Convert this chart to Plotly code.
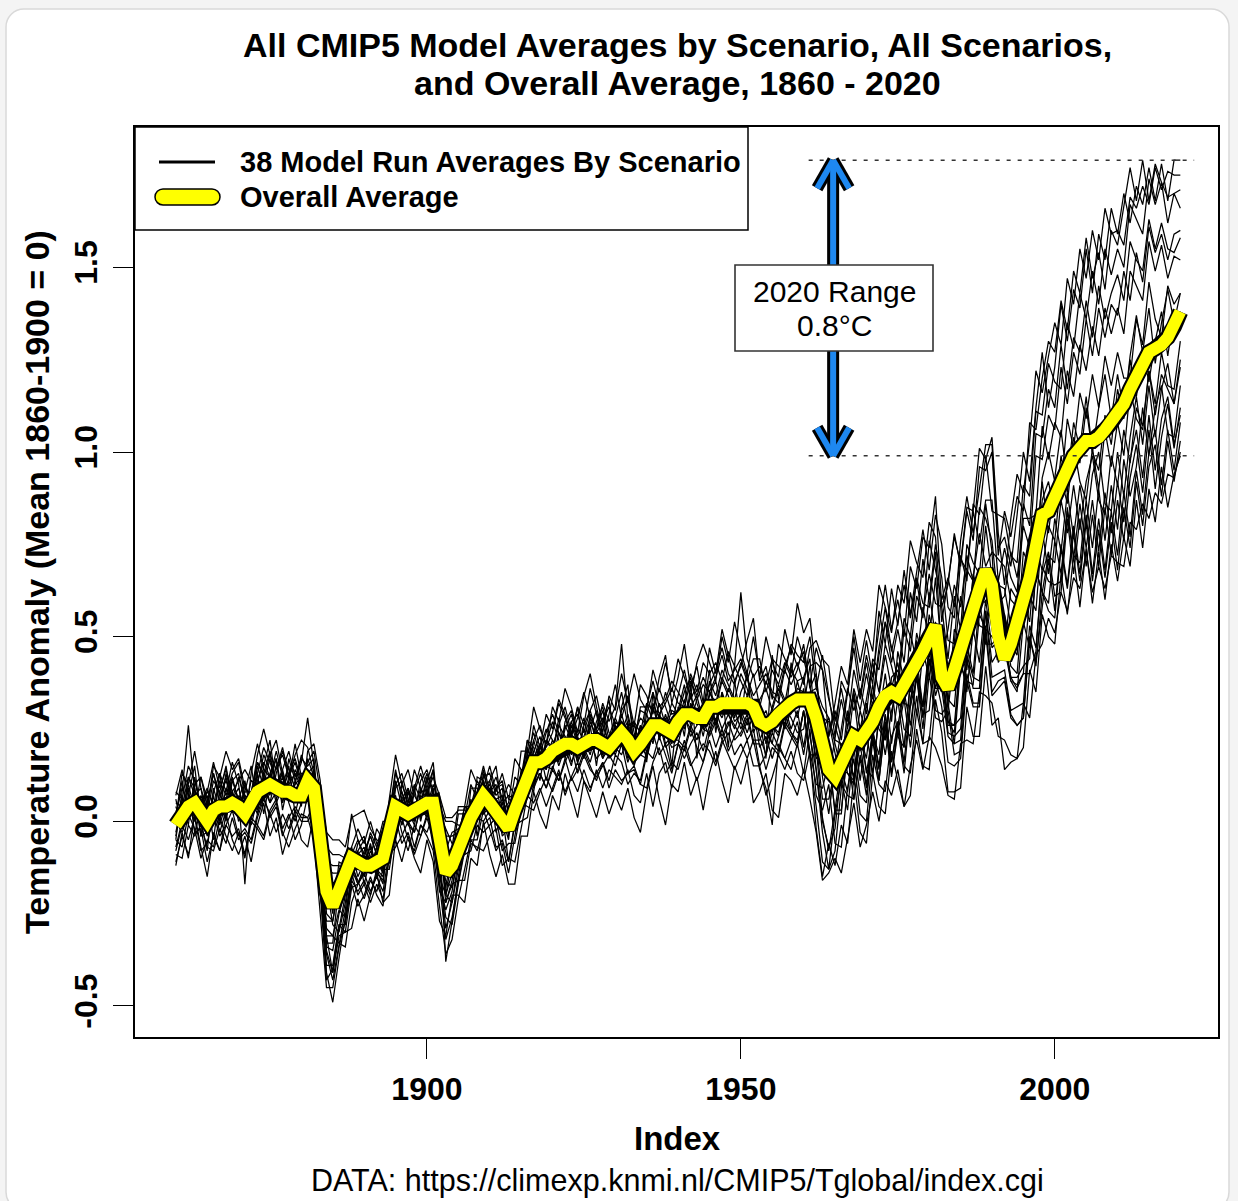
import plotly.graph_objects as go

# ---------------- data (hundredths of a degree C) ----------------
YEARS = list(range(1860, 2021))
X_TICKS = [1900, 1950, 2000]
Y_TICKS = [-0.5, 0.0, 0.5, 1.0, 1.5]
Y_TICK_TEXT = ["-0.5", "0.0", "0.5", "1.0", "1.5"]

# overall average of all scenario runs (yellow line)
overall_avg_c = [
    -1, 2, 4, 5, 2, 0, 3, 4, 4, 5,
    4, 2, 5, 8, 9, 10, 9, 8, 8, 7,
    7, 11, 9, -4, -19, -23, -19, -16, -10, -11,
    -12, -12, -11, -10, -3, 4, 3, 2, 3, 4,
    5, 5, -5, -14, -12, -7, -3, 1, 4, 7,
    5, 3, 0, -2, 3, 8, 13, 16, 16, 17,
    19, 20, 21, 21, 20, 21, 22, 22, 21, 20,
    22, 24, 22, 19, 21, 24, 26, 26, 25, 24,
    27, 29, 29, 28, 28, 31, 31, 32, 32, 32,
    32, 32, 31, 27, 26, 27, 29, 31, 32, 33,
    33, 33, 28, 19, 14, 12, 16, 20, 23, 22,
    24, 27, 31, 34, 35, 34, 37, 41, 43, 46,
    50, 53, 39, 36, 41, 47, 53, 58, 63, 68,
    64, 50, 44, 48, 53, 60, 66, 76, 83, 84,
    88, 93, 97, 99, 101, 103, 103, 104, 106, 108,
    110, 113, 117, 121, 124, 127, 128, 129, 131, 134,
    138,
]

# each scenario-run average, given as its distance from the overall average
run01_dev_c = [
    5, -3, 8, 2, -6, 4, 10, 1, -4, 6,
    9, 3, -2, 7, 0, -5, 4, 11, 6, 2,
    -3, 8, 12, 15, 5, -2, 8, 4, 12, 6,
    2, 9, 4, -3, 5, 10, 3, -2, 6, 11,
    4, -3, 7, 12, 6, 2, -4, 8, 5, -2,
    3, 9, 6, 12, 4, -3, 5, 8, 2, 7,
    10, 4, -2, 6, 9, 3, 8, 12, 5, 1,
    6, 11, 4, 8, -2, 5, 9, 3, 7, 12,
    5, 2, 9, 6, 11, 4, 8, 13, 6, 9,
    12, 7, 3, 10, 14, 8, 5, 11, 15, 9,
    13, 4, 19, 22, 9, 18, 6, 15, 24, 12,
    21, 10, 26, 14, 28, 19, 31, 15, 24, 33,
    18, 30, 36, 22, 14, 29, 35, 20, 27, 34,
    38, 24, 33, 21, 30, 40, 26, 36, 44, 28,
    35, 47, 33, 45, 38, 52, 40, 55, 46, 58,
    49, 57, 45, 51, 43, 50, 40, 49, 37, 45,
    41,
]
run02_dev_c = [
    -4, 6, 22, 3, -2, -8, 5, 9, -3, 2,
    -1, 6, 10, -4, 3, 8, 13, 5, -2, 4,
    9, 17, 6, -8, -14, -10, 2, 7, -3, 5,
    8, -2, 4, 10, 3, -5, 7, 12, 4, 0,
    6, 11, 3, -6, 2, 9, 5, -3, 8, 4,
    -2, 6, 11, 4, 9, 2, -4, 6, 10, 3,
    5, 12, 7, 2, 8, 14, 6, 3, 11, 7,
    9, 24, 6, 2, 10, 7, 12, 5, 8, 14,
    8, 3, 11, 7, 15, 9, 12, 6, 14, 10,
    30, 12, 8, 15, 11, 17, 13, 9, 16, 12,
    10, 17, 8, 26, 20, 11, 22, 14, 27, 16,
    25, 12, 21, 30, 17, 26, 13, 28, 20, 31,
    24, 35, 19, 28, 37, 22, 31, 18, 33, 27,
    36, 22, 40, 29, 35, 24, 42, 30, 37, 46,
    39, 48, 36, 50, 42, 55, 44, 50, 38, 52,
    46, 54, 60, 47, 55, 41, 50, 44, 38, 36,
    33,
]
run03_dev_c = [
    8, 12, 3, -2, 10, 6, -1, 9, 4, 11,
    6, -3, 8, 13, 5, 2, 10, 4, -1, 7,
    3, 5, 10, 12, 16, 18, 14, 9, 11, 13,
    15, 10, 6, 4, -3, 5, 8, 2, 6, -4,
    3, 7, 12, 15, 13, 10, 6, 2, -3, 5,
    8, 4, 9, -2, 5, 1, -5, 3, 7, -1,
    2, -4, 6, 9, 3, 7, -2, 5, 10, 4,
    1, 6, 11, 5, -3, 8, 4, 10, 6, 2,
    7, 12, 4, 9, 3, 6, 10, 15, 8, 5,
    11, 6, 13, 17, 9, 14, 8, 12, 7, 10,
    4, 14, 21, 25, 28, 15, 20, 7, 18, 11,
    19, 6, 16, 24, 11, 20, 27, 14, 22, 9,
    26, 15, 21, 30, 17, 25, 12, 28, 20, 31,
    20, 33, 38, 24, 17, 31, 22, 35, 27, 40,
    31, 24, 38, 29, 42, 33, 46, 36, 49, 40,
    45, 37, 50, 42, 35, 47, 39, 44, 31, 36,
    28,
]
run04_dev_c = [
    -6, -2, 5, -8, 1, 7, -4, 2, 8, -1,
    3, -19, 1, -6, 4, 9, -3, 2, 7, -5,
    2, -5, 4, -10, -15, -12, -6, -3, 2, -4,
    1, 5, -3, 2, 8, 3, -4, 6, 0, 5,
    -3, 4, 1, -8, -4, 2, 7, 3, -2, 6,
    2, -4, 5, 9, 3, -2, 6, 1, -5, 4,
    8, 2, -3, 5, 1, -4, 7, 3, 9, 2,
    -2, 5, 1, 8, 3, -3, 6, 2, 10, 5,
    3, 8, -2, 5, 9, 4, 1, 7, 3, 10,
    6, 2, 9, 4, 12, 7, 3, 10, 5, 8,
    15, 3, 12, 1, -2, 10, 17, 5, 13, 8,
    16, 4, 14, 20, 8, 18, 6, 21, 11, 25,
    10, 22, 27, 13, 7, 24, 15, 26, 12, 19,
    23, 15, 30, 18, 9, 26, 14, 29, 21, 33,
    24, 36, 20, 32, 26, 38, 28, 41, 30, 35,
    38, 28, 40, 31, 25, 36, 27, 33, 24, 20,
    20,
]
run05_dev_c = [
    2, 9, -3, 5, 10, 4, -2, 7, 3, 8,
    12, 5, 1, 8, 3, -3, 6, 10, 4, 0,
    6, 2, -4, -6, -22, -26, -18, -10, -5, 2,
    5, -1, 4, 8, 2, -4, 3, 7, 1, -3,
    4, 9, 2, -24, -15, -8, -2, 4, 1, -5,
    3, 7, 1, -3, 6, 2, 9, 4, -2, 5,
    1, 6, 10, 3, -3, 5, 8, 2, 6, 11,
    4, 0, 7, 3, 9, 5, -2, 6, 1, 8,
    2, 6, 10, 4, -1, 7, 3, 9, 5, 1,
    8, 4, -2, 6, 10, 3, 7, 1, 9, 5,
    6, 11, -8, -18, -22, -9, -2, 6, 12, 3,
    9, 16, 4, 14, 7, 1, 15, 5, 18, 10,
    17, 6, 19, 8, 20, 5, 22, 12, 4, 18,
    9, 21, 25, 12, 5, 22, 16, 7, 24, 14,
    20, 11, 25, 16, 28, 19, 31, 22, 33, 24,
    29, 19, 32, 24, 17, 30, 21, 27, 16, 19,
    14,
]
run06_dev_c = [
    -3, 4, 1, -5, 3, 8, 2, -4, 5, 0,
    -2, 6, 3, -4, 1, 7, 2, -3, 4, 9,
    3, -1, 5, 8, 12, 14, 10, 6, 3, -2,
    4, 8, 2, -3, 5, 1, -4, 3, 7, 2,
    -1, 5, 9, 14, 12, 6, 2, -3, 4, 8,
    3, -2, 5, 1, -4, 3, 7, -1, 4, 0,
    -3, 4, 0, 6, 2, -4, 3, 8, 1, -2,
    5, 1, -3, 4, 7, 2, -5, 3, 0, 6,
    2, -2, 5, 1, -3, 4, 0, 6, 2, -4,
    3, 7, 1, 5, -2, 4, 8, 2, -3, 5,
    -2, 9, 15, 22, 19, 14, 4, 0, 11, -3,
    8, -4, 3, 11, 1, 9, -5, 10, 0, 12,
    -1, 13, 6, -4, 11, 2, 15, 7, -3, 12,
    2, 14, 19, 5, -2, 13, 3, -5, 10, 16,
    4, -3, 12, 2, 15, 6, 18, 8, 20, 10,
    17, 7, 3, 15, 5, 19, 8, 2, 14, 6,
    5,
]
run07_dev_c = [
    1, -5, -2, 4, -6, -3, 2, -7, -1, 3,
    -4, 1, -6, -2, 3, -5, -1, 4, -3, -7,
    -2, 3, -5, -3, 0, 4, 2, -3, -6, 1,
    -3, 2, -4, 1, -5, -2, 3, -3, -6, 0,
    -4, 1, -5, -2, -6, -3, 2, -4, 0, -5,
    -1, 3, -4, 0, -5, 2, -3, -6, 1, -2,
    -5, 0, -3, 2, -4, -1, -6, 0, -3, 3,
    -2, -6, 1, -4, 0, -5, 2, -3, -1, -4,
    -6, -1, -4, 2, -3, -7, 0, -4, 1, -5,
    -3, -8, -2, 3, -5, -1, -6, 0, -4, -9,
    -8, 2, 8, 12, 14, 9, -2, -7, -12, 1,
    -7, 5, -6, -12, 4, 7, -5, -10, 6, -4,
    6, -6, 8, -3, -10, 4, -7, 9, -2, -9,
    3, 8, 12, 0, -8, 6, -6, -11, 4, 8,
    -5, 6, -8, 5, -4, 9, -3, -9, 4, -6,
    7, -4, 8, -6, 3, -8, 2, 9, -5, 4,
    0,
]
run08_dev_c = [
    4, 0, 6, -2, 3, 9, 1, -3, 2, 7,
    1, 5, -1, 3, 7, 2, -4, 1, 5, 10,
    4, -2, 2, -12, -8, -4, 1, 5, -2, 3,
    7, 2, -1, 4, 0, -5, 2, 6, 1, -2,
    3, -1, -10, -6, -2, 3, 7, 1, -4, 2,
    6, 1, -3, 4, 0, -5, 2, -1, 5, -3,
    2, -5, -1, -6, 3, -3, 0, -5, -2, 1,
    -4, -1, -6, 2, -3, -7, -2, 1, -5, -2,
    -5, -9, -3, -6, -1, -8, -4, -10, -6, -2,
    -7, -3, -9, -5, 0, -6, -10, -4, -8, -12,
    -3, -14, -18, -10, 2, -9, -13, -1, -11, 2,
    -10, -15, -2, -12, 1, -11, -17, -3, -14, 0,
    -11, 1, 4, -9, -15, -2, -12, 2, -10, -16,
    -3, 4, 8, -6, -13, 0, -12, -2, -15, -4,
    -12, 0, -11, 3, -9, -16, -2, -14, 0, -12,
    -2, -14, 0, -12, -18, -5, -15, -2, -13, -17,
    -8,
]
run09_dev_c = [
    -7, -3, -9, -4, -10, -6, -1, -8, -5, -2,
    -8, -4, -10, -6, -2, -9, -5, -12, -7, -3,
    -6, -10, -4, 2, 6, 9, 5, 1, -3, -6,
    -2, -7, -4, -9, -5, 0, -6, -10, -4, -8,
    -3, -7, 0, 4, 2, -2, -6, -9, -5, -10,
    -6, -2, -8, -4, -9, -5, -1, -7, -3, -8,
    -4, -9, -5, -1, -7, -3, -8, -10, -6, -2,
    -7, -3, -9, -5, -11, -6, -2, -8, -4, -10,
    -6, -12, -8, -4, -9, -5, -11, -7, -13, -9,
    -5, -10, -6, -12, -8, -3, -9, -14, -10, -6,
    -15, -4, 2, 9, 13, 6, -6, -13, -17, -4,
    -14, -2, -16, -5, -19, -8, -2, -15, -4, -18,
    -6, -17, -3, -13, -20, -5, -15, -21, -7, -16,
    -14, -2, 3, -10, -18, -6, -19, -8, -21, -12,
    -18, -6, -19, -8, -22, -11, -4, -17, -23, -9,
    -19, -7, -20, -9, -17, -5, -18, -8, -14, -21,
    -13,
]
run10_dev_c = [
    3, 7, 1, -4, 5, 2, 8, 4, -2, 1,
    5, 1, 6, 2, -3, 3, 8, -1, 2, 6,
    2, -4, 0, -8, -16, -18, -12, -14, -8, -6,
    -2, 1, -3, -6, 2, -1, 5, 1, -4, 3,
    0, -4, 2, -6, -10, -6, -3, 2, -1, 4,
    -1, 3, 7, 2, -2, 4, -3, 1, 5, 0,
    3, -2, 5, 1, -4, 2, 6, -1, 3, -3,
    2, -3, 4, -1, 5, 0, -4, 3, -2, 1,
    -1, 4, -3, 2, -5, 1, -4, 3, -2, 0,
    -4, 1, -3, 5, -2, -6, 2, -3, 1, -5,
    3, -10, -14, -19, -21, -14, -2, -12, 1, -11,
    0, -14, -3, -16, -5, 2, -12, -18, -2, -15,
    -4, -19, 1, -9, -17, -3, -18, -6, -20, -8,
    -17, -1, 6, -10, -16, -20, -5, -19, -4, -17,
    -6, -20, -8, -22, -10, -23, -9, -4, -20, -24,
    -10, -25, -13, -6, -22, -9, -24, -12, -7, -21,
    -15,
]
run11_dev_c = [
    -8, -12, -5, -9, -3, -7, -11, -6, -10, -4,
    -9, -5, -11, -7, -3, -8, -12, -6, -10, -4,
    -7, -11, -6, 4, 8, 11, 7, 3, -2, -5,
    -9, -4, -8, -3, -10, -6, -2, -7, -11, -5,
    -8, -3, 6, 10, 8, 4, -1, -6, -9, -4,
    -7, -11, -5, -9, -4, -8, -12, -6, -3, -8,
    -5, -9, -4, -10, -6, -2, -7, -11, -5, -9,
    -4, -8, -12, -6, -10, -5, -9, -3, -7, -11,
    -6, -10, -4, -8, -12, -7, -3, -9, -5, -10,
    -8, -4, -10, -6, -12, -7, -11, -5, -9, -13,
    -3, -15, -10, 6, 14, 10, 5, -7, -13, -1,
    -15, -3, -17, -5, -19, -7, -21, -8, -2, -17,
    -20, -6, 0, -12, -18, -22, -8, -19, -25, -11,
    -21, -4, 4, -9, -17, -20, -26, -30, -14, -19,
    -24, -28, -12, -27, -31, -16, -29, -14, -30, -17,
    -31, -15, -29, -25, -12, -28, -16, -11, -26, -30,
    -20,
]
run12_dev_c = [
    0, 5, -3, 2, 7, -1, 4, -5, 1, 6,
    2, -3, 3, 8, 4, -2, 1, 6, -1, 3,
    5, 1, 4, -14, -20, -16, -9, -12, -6, -8,
    -4, -8, -2, -5, 1, -3, 2, -2, -6, 0,
    3, -2, -12, -18, -14, -9, -4, 1, -3, -7,
    -2, 3, -1, 5, 1, -4, 2, 6, 0, -3,
    1, -3, 2, -5, 0, 4, -2, 1, -4, 0,
    -3, 1, -5, 2, -1, -6, -2, 3, -4, -1,
    -4, 0, -6, -2, 2, -5, -1, -7, -3, -6,
    -9, -5, -1, -7, -3, -10, -6, -2, -8, -11,
    -3, -16, -24, -30, -27, -20, -7, -2, -17, -5,
    -17, -4, -20, -7, -22, -9, -24, -10, -4, -21,
    -6, -23, -10, -4, -20, -25, -9, -22, -27, -11,
    -25, -10, -3, -18, -22, -28, -13, -29, -16, -11,
    -27, -31, -15, -32, -19, -34, -20, -35, -21, -36,
    -23, -37, -24, -19, -35, -21, -38, -25, -18, -33,
    -26,
]
run13_dev_c = [
    -10, -6, -13, -8, -4, -11, -7, -12, -5, -9,
    -6, -11, -4, -9, -13, -7, -3, -10, -6, -12,
    -8, -4, -11, -16, -12, -8, -5, -10, -4, -9,
    -5, -10, -6, -11, -7, -3, -9, -5, -12, -8,
    -4, -10, -14, -8, -5, -9, -13, -7, -11, -15,
    -9, -5, -12, -8, -14, -10, -6, -11, -7, -13,
    -10, -6, -14, -9, -12, -7, -13, -9, -5, -11,
    -8, -13, -9, -4, -11, -15, -10, -6, -12, -8,
    -13, -9, -14, -10, -7, -12, -16, -11, -8, -14,
    -11, -15, -9, -13, -17, -28, -8, -14, -18, -12,
    -20, -8, -21, -16, -4, -18, -23, -11, -6, -20,
    -24, -9, -21, -26, -12, -7, -22, -28, -13, -25,
    -28, -14, -8, -20, -26, -30, -15, -27, -32, -17,
    -30, -14, -6, -20, -27, -32, -16, -33, -25, -13,
    -31, -18, -33, -19, -34, -20, -36, -22, -38, -24,
    -38, -24, -40, -26, -41, -27, -22, -38, -25, -39,
    -30,
]
run14_dev_c = [
    6, 2, 8, 4, -1, 5, 10, 3, 7, 1,
    8, 4, -1, 5, 11, 6, 2, -3, 9, 4,
    1, 6, 3, -6, -10, -8, -14, -18, -12, -6,
    -1, 4, 0, -4, 3, 7, 1, -3, 5, 9,
    2, -3, -8, -12, -16, -10, -5, 3, 7, 1,
    5, 0, 6, 2, -3, 4, 9, 1, -2, 5,
    0, 6, 2, -3, 5, 1, -4, 3, 7, 0,
    4, -2, 3, 7, 0, -4, 5, -1, 2, -3,
    1, -4, 3, -2, 4, 0, -5, 2, -3, -7,
    -2, -6, 1, -4, -8, -1, -5, 0, -7, -3,
    -13, -2, -14, -22, -27, -10, -5, -17, -3, -15,
    -19, -5, -20, -8, -23, -10, -4, -21, -9, -25,
    -10, -25, -12, -6, -23, -28, -13, -26, -31, -15,
    -29, -12, -5, -19, -27, -32, -16, -34, -21, -27,
    -33, -19, -34, -21, -36, -22, -38, -25, -40, -27,
    -42, -28, -43, -29, -44, -31, -26, -41, -28, -42,
    -35,
]
run15_dev_c = [
    -4, -9, -2, -7, -12, -5, -10, -3, -8, -13,
    -7, -12, -5, -10, -14, -8, -4, -11, -15, -9,
    -5, -10, -14, -20, -26, -22, -15, -11, -7, -12,
    -8, -3, -9, -13, -6, -11, -7, -2, -10, -5,
    -9, -13, -18, -22, -20, -14, -10, -6, -12, -8,
    -4, -10, -6, -12, -7, -3, -9, -13, -8, -5,
    -11, -7, -13, -9, -4, -10, -14, -8, -12, -6,
    -10, -14, -8, -12, -16, -11, -22, -13, -9, -15,
    -11, -7, -13, -17, -12, -9, -15, -10, -14, -18,
    -14, -10, -16, -12, -19, -15, -11, -17, -13, -20,
    -22, -14, -30, -34, -20, -24, -17, -26, -11, -25,
    -30, -14, -27, -32, -16, -23, -33, -34, -18, -31,
    -36, -20, -15, -28, -33, -38, -22, -35, -40, -26,
    -38, -22, -30, -32, -36, -40, -25, -41, -27, -34,
    -40, -26, -41, -27, -43, -29, -44, -31, -46, -33,
    -45, -36, -48, -34, -50, -37, -47, -33, -46, -40,
    -39,
]
run16_dev_c = [
    9, 4, 11, 6, 2, 8, 13, 5, 10, 3,
    7, 12, 6, 2, 9, 4, -1, 6, 11, 5,
    10, 4, 8, 2, -6, -4, 3, 7, 1, 6,
    3, 8, 2, -4, 4, 9, 5, 0, -3, 4,
    8, 2, -2, 6, 9, 5, 0, -4, 3, 7,
    1, 6, 10, 4, -1, 5, 0, -3, 4, 8,
    3, -2, 4, 8, 2, -3, 5, 1, -4, 3,
    6, 0, 5, -2, 3, 8, 1, -3, 4, -1,
    3, -3, 2, 6, -1, 3, 7, -2, 4, 0,
    -3, 2, -5, 0, 4, -3, 1, -6, -2, 3,
    2, -6, -11, -1, 5, -10, -14, 1, -12, 4,
    -11, -3, -13, 2, -14, -1, -17, -4, 1, -15,
    -2, -17, 3, -10, -15, -19, -5, -18, -3, -20,
    -16, 0, 6, -9, -14, -18, -22, -8, -21, -25,
    -12, -26, -13, -28, -15, -29, -16, -31, -17, -30,
    -18, -32, -19, -15, -31, -17, -33, -20, -16, -32,
    -28,
]
run17_dev_c = [
    2, 11, 6, 14, 7, 3, 12, 8, 15, 9,
    13, 7, 2, 10, 16, 8, 5, 12, 4, 11,
    15, 9, 4, -2, -12, -18, -10, -4, 3, 9,
    6, 12, 5, 1, 9, 14, 7, 3, 11, 5,
    1, 9, 4, -4, 5, 11, 7, 13, 6, 2,
    10, 5, 13, 8, 2, 11, 6, 15, 9, 4,
    12, 7, 15, 10, 4, 13, 18, 9, 3, 14,
    8, 16, 10, 21, 12, 6, 15, 9, 18, 11,
    17, 10, 5, 15, 20, 12, 7, 18, 11, 22,
    14, 8, 19, 12, 24, 16, 10, 21, 13, 26,
    18, 22, 12, 4, 9, 20, 26, 17, 29, 21,
    28, 19, 33, 24, 16, 30, 22, 35, 27, 20,
    31, 24, 15, 29, 36, 23, 32, 26, 38, 30,
    40, 28, 20, 34, 41, 29, 37, 46, 33, 42,
    47, 36, 50, 41, 54, 44, 57, 48, 60, 51,
    50, 43, 52, 45, 48, 40, 49, 42, 45, 41,
    37,
]
run18_dev_c = [
    -2, 3, -5, 7, 1, -4, 6, -1, 9, 2,
    -3, 8, 1, -5, 6, 12, 0, 5, -2, 3,
    11, 2, 6, -7, -17, -20, -14, -8, -1, -6,
    0, 6, -2, -7, 1, 6, 10, 4, -1, 7,
    9, 3, -8, -15, -10, -4, 4, 9, 2, -3,
    6, 12, 3, 7, 14, 6, 1, 10, 4, 12,
    6, 13, 8, 2, 11, 5, 14, 7, 0, 9,
    15, 4, 12, 7, 16, 10, 3, 13, 20, 8,
    12, 19, 7, 14, 4, 16, 9, 20, 13, 6,
    10, 17, 24, 11, 16, 6, 19, 13, 8, 17,
    11, 4, -6, -13, -8, 2, 9, 16, 7, 14,
    5, 17, 10, 20, 12, 4, 18, 9, 23, 13,
    8, 20, 5, 16, 23, 11, 19, 7, 22, 14,
    12, 9, 17, 25, 13, 20, 8, 23, 15, 26,
    18, 30, 16, 28, 20, 33, 23, 35, 25, 32,
    27, 36, 24, 33, 22, 34, 26, 30, 21, 25,
    22,
]
run19_dev_c = [
    -11, -5, -14, -3, -9, -15, -6, -12, -2, -10,
    -13, -6, -16, -9, -4, -14, -8, -17, -11, -5,
    -12, -18, -7, -15, -24, -17, -9, -14, -19, -10,
    -15, -8, -3, -12, -17, -9, -14, -6, -13, -18,
    -10, -16, -22, -17, -8, -13, -19, -11, -16, -7,
    -14, -18, -9, -15, -20, -12, -17, -8, -14, -19,
    -12, -17, -8, -14, -19, -10, -16, -21, -13, -18,
    -15, -21, -13, -18, -24, -16, -11, -20, -26, -14,
    -19, -13, -22, -16, -25, -18, -12, -21, -27, -17,
    -22, -15, -26, -19, -13, -24, -28, -18, -21, -26,
    -19, -27, -31, -35, -28, -22, -30, -24, -18, -29,
    -25, -19, -31, -23, -28, -20, -33, -26, -21, -32,
    -27, -33, -24, -29, -35, -26, -31, -37, -28, -34,
    -32, -27, -22, -30, -36, -28, -38, -31, -35, -29,
    -37, -31, -40, -33, -38, -30, -41, -35, -43, -36,
    -40, -44, -36, -42, -38, -45, -39, -43, -37, -41,
    -38,
]
run20_dev_c = [
    7, -4, 3, 10, -2, 6, -8, 4, 11, -1,
    2, 9, -3, 5, -7, 1, 8, -5, 3, 14,
    5, -4, 1, 6, 2, -5, -11, -6, -1, 3,
    -5, 2, 9, 5, -2, -9, 0, 7, -3, 1,
    7, -5, -12, -10, -7, 1, -6, 5, -8, 0,
    4, -6, 2, -9, -3, 6, -2, -8, 3, -6,
    -1, 8, -4, 3, 11, -3, 4, -7, 6, 13,
    -3, 7, 15, 0, 5, -8, 9, -4, 3, -9,
    4, -6, 8, -11, 2, 10, -7, 3, -12, 6,
    -5, 9, -7, 1, -9, 18, 4, -6, 11, 0,
    6, -6, 1, -7, -12, 3, -2, 10, -4, 8,
    -1, 10, -3, 6, -8, 12, 1, -6, 8, -2,
    12, -3, 10, -6, 4, 14, -2, 8, 15, 1,
    9, -7, 2, 15, 7, -4, 11, -2, 9, -6,
    5, 13, -5, 9, 0, 12, -3, 8, 15, 1,
    11, -2, 9, 16, 3, 12, -4, 6, 13, 1,
    5,
]

RUN_DEVS = [run01_dev_c, run02_dev_c, run03_dev_c, run04_dev_c, run05_dev_c,
            run06_dev_c, run07_dev_c, run08_dev_c, run09_dev_c, run10_dev_c,
            run11_dev_c, run12_dev_c, run13_dev_c, run14_dev_c, run15_dev_c,
            run16_dev_c, run17_dev_c, run18_dev_c, run19_dev_c, run20_dev_c]

for d in RUN_DEVS + [overall_avg_c]:
    assert len(d) == len(YEARS), len(d)

RANGE_TOP, RANGE_BOTTOM = 1.79, 0.99     # 2020 spread of the runs
RANGE_X = 1964.7
DOT_X0, DOT_X1 = 1960.8, 2022.2

# ---------------- geometry ----------------
W, H = 1238, 1201
L, R, T, B = 135, 1218, 127, 1037
PW, PH = R - L, B - T
XR = [1853.5, 2026.0]
YR = [-0.584, 1.880]
XS = PW / (XR[1] - XR[0])   # px per year
YS = PH / (YR[1] - YR[0])   # px per degree


def fx(p):
    return (p - L) / PW


def fy(p):
    return (B - p) / PH


FONT = "Liberation Sans, Arial, Helvetica, sans-serif"


def rrect_path(x0, y0, x1, y1, r):
    k = 0.5523 * r
    pts = [
        ("M", [(x0 + r, y0)]),
        ("L", [(x1 - r, y0)]),
        ("C", [(x1 - r + k, y0), (x1, y0 + r - k), (x1, y0 + r)]),
        ("L", [(x1, y1 - r)]),
        ("C", [(x1, y1 - r + k), (x1 - r + k, y1), (x1 - r, y1)]),
        ("L", [(x0 + r, y1)]),
        ("C", [(x0 + r - k, y1), (x0, y1 - r + k), (x0, y1 - r)]),
        ("L", [(x0, y0 + r)]),
        ("C", [(x0, y0 + r - k), (x0 + r - k, y0), (x0 + r, y0)]),
    ]
    s = ""
    for cmd, ps in pts:
        s += cmd + " " + " ".join(f"{fx(a):.5f},{fy(b):.5f}" for a, b in ps) + " "
    return s + "Z"


fig = go.Figure()

for dev in RUN_DEVS:
    vals = [(a + d) / 100 for a, d in zip(overall_avg_c, dev)]
    fig.add_trace(go.Scatter(x=YEARS, y=vals, mode="lines",
                             line=dict(color="black", width=1.25),
                             hoverinfo="skip", showlegend=False))

avg = [a / 100 for a in overall_avg_c]
fig.add_trace(go.Scatter(x=YEARS, y=avg, mode="lines",
                         line=dict(color="black", width=16),
                         hoverinfo="skip", showlegend=False))
fig.add_trace(go.Scatter(x=YEARS, y=avg, mode="lines",
                         line=dict(color="#FFFF00", width=12),
                         hoverinfo="skip", showlegend=False))

shapes = []
# outer rounded frame
shapes.append(dict(type="path", xref="paper", yref="paper", layer="below",
                   path=rrect_path(6, 9, 1229, 1210, 18),
                   fillcolor="white", line=dict(color="#d9d9d9", width=1.5)))

# dotted range lines
for yv in (RANGE_TOP, RANGE_BOTTOM):
    shapes.append(dict(type="line", xref="x", yref="y", x0=DOT_X0, x1=DOT_X1,
                       y0=yv, y1=yv, line=dict(color="#333333", width=1.6, dash="4px,7px")))

# double arrow
dx = 16 / XS
dy = 28 / YS
arrow_segs = [
    (RANGE_X, RANGE_TOP, RANGE_X, RANGE_BOTTOM),
    (RANGE_X, RANGE_TOP, RANGE_X - dx, RANGE_TOP - dy),
    (RANGE_X, RANGE_TOP, RANGE_X + dx, RANGE_TOP - dy),
    (RANGE_X, RANGE_BOTTOM, RANGE_X - dx, RANGE_BOTTOM + dy),
    (RANGE_X, RANGE_BOTTOM, RANGE_X + dx, RANGE_BOTTOM + dy),
]
for col, wd in (("black", 12), ("#1E88F0", 6)):
    for x0, y0, x1, y1 in arrow_segs:
        shapes.append(dict(type="line", xref="x", yref="y", x0=x0, y0=y0, x1=x1, y1=y1,
                           line=dict(color=col, width=wd)))

# range label box
shapes.append(dict(type="rect", xref="paper", yref="paper",
                   x0=fx(735), x1=fx(933), y0=fy(351), y1=fy(265),
                   fillcolor="white", line=dict(color="#333333", width=1.6)))

# legend box
shapes.append(dict(type="rect", xref="paper", yref="paper",
                   x0=fx(135), x1=fx(748), y0=fy(230), y1=fy(127),
                   fillcolor="white", line=dict(color="black", width=1.5)))
shapes.append(dict(type="line", xref="paper", yref="paper",
                   x0=fx(159), x1=fx(215), y0=fy(162), y1=fy(162),
                   line=dict(color="black", width=3)))
shapes.append(dict(type="path", xref="paper", yref="paper",
                   path=rrect_path(155, 189, 220, 205, 8),
                   fillcolor="#FFFF00", line=dict(color="black", width=1.5)))

annotations = []


def ann(text, x, y, size, bold=False, xanchor="center", angle=0):
    annotations.append(dict(text=text, x=fx(x), y=fy(y), xref="paper", yref="paper",
                            showarrow=False, xanchor=xanchor, yanchor="middle",
                            textangle=angle,
                            font=dict(family=FONT, size=size, color="black",
                                      weight="bold" if bold else "normal")))


ann("All CMIP5 Model Averages by Scenario, All Scenarios,", 677, 45, 34, bold=True)
ann("and Overall Average, 1860 - 2020", 677, 83, 34, bold=True)
ann("Index", 677, 1138, 33, bold=True)
ann("Temperature Anomaly (Mean 1860-1900 = 0)", 37, 582, 34, bold=True, angle=-90)
ann("DATA: https://climexp.knmi.nl/CMIP5/Tglobal/index.cgi", 677, 1180, 30.5)
ann("38 Model Run Averages By Scenario", 238, 162, 29, bold=True, xanchor="left")
ann("Overall Average", 238, 197, 29, bold=True, xanchor="left")
ann("2020 Range", 834, 291, 30)
ann("0.8°C", 834, 325, 30)

tickfont = dict(family=FONT, size=32, color="black", weight="bold")
fig.update_layout(
    width=W, height=H, autosize=False,
    margin=dict(l=L, r=W - R, t=T, b=H - B, pad=0),
    paper_bgcolor="#f4f4f4", plot_bgcolor="white",
    showlegend=False, hovermode=False,
    shapes=shapes, annotations=annotations,
    xaxis=dict(range=XR, tickmode="array", tickvals=X_TICKS,
               ticks="outside", ticklen=20, tickwidth=1.4, tickcolor="black",
               showline=True, mirror=True, linecolor="black", linewidth=1.5,
               showgrid=False, zeroline=False, tickfont=tickfont,
               ticklabelstandoff=3, automargin=False, fixedrange=True),
    yaxis=dict(range=YR, tickmode="array", tickvals=Y_TICKS, ticktext=Y_TICK_TEXT,
               ticks="outside", ticklen=20, tickwidth=1.4, tickcolor="black",
               showline=True, mirror=True, linecolor="black", linewidth=1.5,
               showgrid=False, zeroline=False, tickfont=tickfont, tickangle=-90,
               ticklabelstandoff=3, automargin=False, fixedrange=True),
)

fig.write_html("out.html", config={"displayModeBar": False})
